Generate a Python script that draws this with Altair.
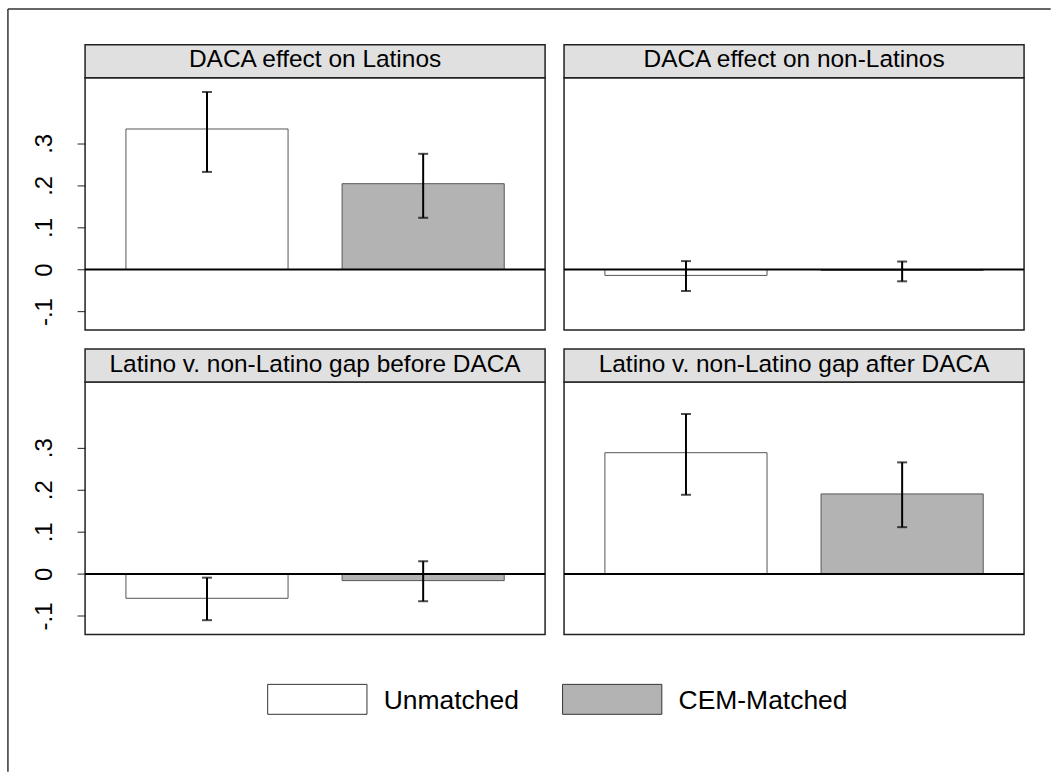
import altair as alt
import pandas as pd

# Panel titles and the two estimation samples
panel_titles = [
    "DACA effect on Latinos",
    "DACA effect on non-Latinos",
    "Latino v. non-Latino gap before DACA",
    "Latino v. non-Latino gap after DACA",
]
groups = ["Unmatched", "CEM-Matched"]

# Point estimates and 95% confidence bounds, one entry per panel
est_unmatched = [0.334, -0.014, -0.058, 0.288]
est_cem = [0.204, -0.002, -0.016, 0.190]
lo_unmatched = [0.232, -0.051, -0.110, 0.188]
hi_unmatched = [0.422, 0.020, -0.009, 0.380]
lo_cem = [0.123, -0.028, -0.065, 0.111]
hi_cem = [0.275, 0.019, 0.030, 0.265]

# Y axis ticks
tick_values = [-0.1, 0, 0.1, 0.2, 0.3]
tick_labels = ["-.1", "0", ".1", ".2", ".3"]

fill_colors = ["#ffffff", "#b3b3b3"]

FONT = "Liberation Sans"
INK = "#222222"
PW, PH = 461, 253      # plot area of each panel
HH = 33                # height of the grey title strip
Y_DOMAIN = [-0.144, 0.456]

label_array = "[" + ",".join(f"'{t}'" for t in tick_labels) + "]"
label_expr = f"{label_array}[round(datum.value*10)+1]"

fill_scale = alt.Scale(domain=groups, range=fill_colors)


def panel(i, with_axis, with_frame=False):
    df = pd.DataFrame({
        "group": groups,
        "est": [est_unmatched[i], est_cem[i]],
        "lo": [lo_unmatched[i], lo_cem[i]],
        "hi": [hi_unmatched[i], hi_cem[i]],
    })
    title_df = pd.DataFrame({"title": [panel_titles[i]]})

    x = alt.X("group:N", sort=groups,
              scale=alt.Scale(domain=groups, paddingInner=0.25, paddingOuter=0.189),
              axis=None)
    if with_axis:
        yaxis = alt.Axis(values=tick_values, labelExpr=label_expr, labelAngle=270,
                         labelAlign="center", labelBaseline="alphabetic",
                         labelFont=FONT, labelFontSize=24, labelColor="black",
                         labelPadding=26, labelOverlap=False,
                         tickSize=8, tickColor=INK, tickWidth=1,
                         domain=False, grid=False, title=None)
    else:
        yaxis = None
    y_scale = alt.Scale(domain=Y_DOMAIN, nice=False, zero=False)

    base = alt.Chart(df)
    header = alt.Chart(title_df).mark_rect(
        fill="#e0e0e0", stroke=INK, strokeWidth=1.5
    ).encode(x=alt.value(0), x2=alt.value(PW), y=alt.value(-HH), y2=alt.value(0))
    header_text = alt.Chart(title_df).mark_text(
        font=FONT, fontSize=24.5, align="center", baseline="alphabetic", color="black"
    ).encode(x=alt.value(PW / 2), y=alt.value(-10.4), text="title:N")

    bars = base.mark_bar(stroke="#555555", strokeWidth=1).encode(
        x=x,
        y=alt.Y("est:Q", scale=y_scale, axis=yaxis),
        y2=alt.datum(0),
        fill=alt.Fill("group:N", scale=fill_scale, legend=None),
    )
    zero = alt.Chart(title_df).mark_rule(color="black", strokeWidth=2).encode(
        y=alt.datum(0)
    )
    err = base.mark_rule(color="black", strokeWidth=2).encode(
        x=x, y="lo:Q", y2="hi:Q"
    )
    cap_lo = base.mark_tick(color="black", thickness=2, size=10).encode(x=x, y="lo:Q")
    cap_hi = base.mark_tick(color="black", thickness=2, size=10).encode(x=x, y="hi:Q")

    layers = [header, header_text, bars, zero, err, cap_lo, cap_hi]
    if with_frame:
        # outer figure frame (top and left edges)
        frame_left = alt.Chart(title_df).mark_rule(color="#333333", strokeWidth=1.5).encode(
            x=alt.value(-77.3), y=alt.value(-68.7), y2=alt.value(695.5))
        frame_top = alt.Chart(title_df).mark_rule(color="#333333", strokeWidth=1.5).encode(
            x=alt.value(-77.3), x2=alt.value(967.7), y=alt.value(-68.7))
        layers += [frame_left, frame_top]
    return alt.layer(*layers).properties(width=PW, height=PH)


# Legend drawn as its own small chart below the left column
legend_df = pd.DataFrame({"group": groups})
lx = alt.X("group:N", sort=groups,
           scale=alt.Scale(domain=groups, range=[85, 676], paddingInner=0, paddingOuter=0),
           axis=None)
# wide rectangular key symbol, 99.5 x 30 px
legend_boxes = alt.Chart(legend_df).mark_point(
    shape="M-1,-0.3015H1V0.3015H-1Z", size=9900, filled=True,
    stroke="#333333", strokeWidth=1, opacity=1
).encode(
    x=lx, y=alt.value(13),
    fill=alt.Fill("group:N", scale=fill_scale, legend=None),
)
legend_text = alt.Chart(legend_df).mark_text(
    font=FONT, fontSize=26.5, align="left", baseline="alphabetic", dx=66.5, color="black"
).encode(x=lx, y=alt.value(22.5), text="group:N")
legend = alt.layer(legend_boxes, legend_text).properties(
    width=PW, height=30, view=alt.ViewBackground(stroke="transparent")
)

chart = alt.concat(
    panel(0, True, with_frame=True), panel(1, False),
    panel(2, True), panel(3, False),
    legend,
    columns=2,
    spacing=alt.RowColnumber(row=52, column=19),
    bounds="flush",
).properties(
    padding={"left": 6.25, "top": 6.0, "right": 0, "bottom": 0},
    background="white",
).configure_view(stroke=INK, strokeWidth=1.5, fill="white")

chart.save("out.html", embed_options={"renderer": "svg", "actions": False})
